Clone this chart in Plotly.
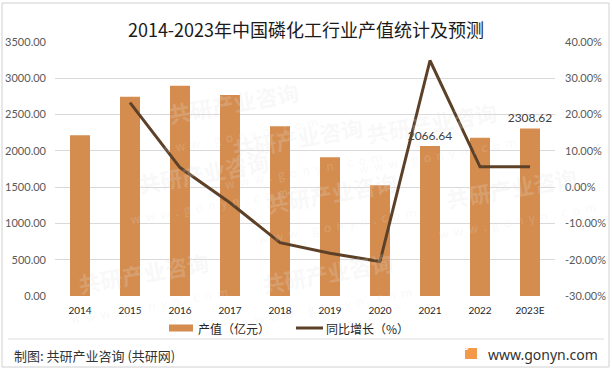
import plotly.graph_objects as go

years = ["2014", "2015", "2016", "2017", "2018", "2019", "2020", "2021", "2022", "2023E"]
output_value = [2215, 2744, 2896, 2771, 2339, 1911, 1525, 2066.64, 2182, 2308.62]
growth_pct = [None, 23.3, 5.4, -4.3, -15.3, -18.2, -20.5, 34.9, 5.6, 5.6]
bar_labels = ["", "", "", "", "", "", "", "2066.64", "", "2308.62"]

left_ticks = [0, 500, 1000, 1500, 2000, 2500, 3000, 3500]
right_ticks = [-30, -20, -10, 0, 10, 20, 30, 40]
right_tick_text = ["%.2f%%" % v for v in right_ticks]
left_tick_text = ["%.2f" % v for v in left_ticks]

series_names = ["产值（亿元）", "同比增长（%）"]

CJK = "Noto Sans CJK SC"
NUM = "Lato, Noto Sans CJK SC"
BAR_C = "#D58D4F"
LINE_C = "#5C4128"
TICK_C = "#595959"

W, H = 612, 369
L, R, T, B = 55, 57, 42, 73
PW, PH = W - L - R, H - T - B


def px(x):
    return (x - L) / PW


def py(y):
    return (H - B - y) / PH


fig = go.Figure()
fig.add_trace(go.Bar(
    x=years, y=output_value, name=series_names[0],
    marker=dict(color=BAR_C, line=dict(width=0)),
    text=bar_labels, textposition="outside", cliponaxis=False,
    constraintext="none",
    textfont=dict(family=NUM, size=12, color="#404040"),
    yaxis="y", showlegend=False,
))
fig.add_trace(go.Scatter(
    x=years, y=growth_pct, name=series_names[1], mode="lines",
    line=dict(color=LINE_C, width=3), yaxis="y2", showlegend=False,
))

# faint watermark texts
wm = [(150, 70), (300, 150), (520, 90), (120, 230), (420, 250), (600, 200), (60, 330), (330, 330)]
for (wx, wy) in wm:
    fig.add_annotation(x=px(wx), y=py(wy), xref="paper", yref="paper",
                       text="<b>共研产业咨询</b><br><span style='font-size:12px'>w  w  w  .  g  o  n  y  n  .  c  o  m</span>",
                       showarrow=False, textangle=-10,
                       font=dict(family=CJK, size=22, color="rgba(225,225,225,0.22)"))

fig.update_layout(
    width=W, height=H,
    paper_bgcolor="white", plot_bgcolor="rgba(0,0,0,0)",
    margin=dict(l=L, r=R, t=T, b=B, autoexpand=False),
    title=dict(text="2014-2023年中国磷化工行业产值统计及预测", x=0.5, xanchor="center",
               y=1 - 31 / H, yanchor="middle",
               font=dict(family=CJK, size=18, color="#1a1a1a")),
    bargap=0.6,
    showlegend=False,
    xaxis=dict(type="category", showgrid=False, showline=False, ticks="",
               ticklabelstandoff=7,
               tickfont=dict(family=NUM, size=10, color="#262626")),
    yaxis=dict(range=[0, 3500], tickvals=left_ticks, ticktext=left_tick_text,
               showgrid=True, gridcolor="#D9D9D9", gridwidth=1, zeroline=False,
               showline=False, ticks="", ticklabelstandoff=8,
               tickfont=dict(family=NUM, size=11, color=TICK_C)),
    yaxis2=dict(range=[-30, 40], tickvals=right_ticks, ticktext=right_tick_text,
                overlaying="y", side="right", showgrid=False, zeroline=False,
                showline=False, ticks="", ticklabelstandoff=9,
                tickfont=dict(family=NUM, size=11, color=TICK_C)),
    font=dict(family=CJK),
)

# custom legend (wide bar swatch like the reference)
fig.add_shape(type="rect", xref="paper", yref="paper",
              x0=px(169), x1=px(193), y0=py(331.5), y1=py(324.5),
              fillcolor=BAR_C, line=dict(width=0))
fig.add_annotation(x=px(196), y=py(328), xref="paper", yref="paper",
                   xanchor="left", yanchor="middle", showarrow=False,
                   text=series_names[0], font=dict(family=CJK, size=12, color="#262626"))
fig.add_shape(type="line", xref="paper", yref="paper",
              x0=px(296), x1=px(323), y0=py(328), y1=py(328),
              line=dict(color=LINE_C, width=3))
fig.add_annotation(x=px(324), y=py(328), xref="paper", yref="paper",
                   xanchor="left", yanchor="middle", showarrow=False,
                   text=series_names[1], font=dict(family=CJK, size=12, color="#262626"))

# outer border
fig.add_shape(type="rect", xref="paper", yref="paper", x0=px(2), x1=px(609),
              y0=py(367), y1=py(3), line=dict(color="#D0D0D0", width=1))
# footer separator
fig.add_shape(type="line", xref="paper", yref="paper", x0=px(8), x1=px(604),
              y0=py(339), y1=py(339), line=dict(color="#DDDDDD", width=1))
# footer source text
fig.add_annotation(x=px(12), y=py(355), xref="paper", yref="paper",
                   xanchor="left", yanchor="middle", showarrow=False,
                   text="制图: 共研产业咨询 (共研网)",
                   font=dict(family=CJK, size=13, color="#333333"))
# logo
fig.add_shape(type="rect", xref="paper", yref="paper",
              x0=px(465), x1=px(477), y0=py(359), y1=py(348),
              fillcolor="#F39A4A", line=dict(width=0), layer="below")
fig.add_annotation(x=px(471), y=py(353.5), xref="paper", yref="paper",
                   showarrow=False, text="<b>G</b>",
                   font=dict(family="DejaVu Sans", size=8, color="white"))
fig.add_annotation(x=px(486), y=py(354), xref="paper", yref="paper",
                   xanchor="left", yanchor="middle", showarrow=False,
                   text="www.gonyn.com",
                   font=dict(family="Noto Sans, DejaVu Sans", size=14, color="#333333"))

fig.write_html("out.html", config={"displayModeBar": False})

# remove default browser body margin so the figure fills the window exactly
with open("out.html", "r", encoding="utf-8") as f:
    html = f.read()
html = html.replace("<head>", "<head><style>html,body{margin:0;padding:0;overflow:hidden;}</style>", 1)
with open("out.html", "w", encoding="utf-8") as f:
    f.write(html)
